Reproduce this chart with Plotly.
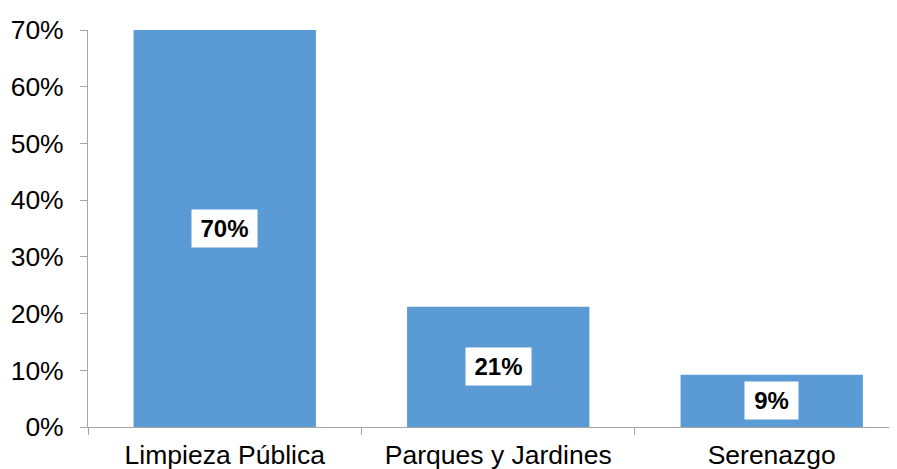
import plotly.graph_objects as go

categories = ["Limpieza Pública", "Parques y Jardines", "Serenazgo"]
values = [0.70, 0.212, 0.092]
labels = ["70%", "21%", "9%"]
y_ticks = [0, 0.1, 0.2, 0.3, 0.4, 0.5, 0.6, 0.7]
y_tick_text = ["0%", "10%", "20%", "30%", "40%", "50%", "60%", "70%"]

fig = go.Figure()
fig.add_trace(go.Bar(x=categories, y=values, marker=dict(color="#5B9BD5", line=dict(width=0)),
                     hoverinfo="skip"))

for c, v, t in zip(categories, values, labels):
    w = 55 if len(t) > 2 else 43
    fig.add_annotation(x=c, y=v / 2, text="<b>" + t + "</b>", showarrow=False,
                       font=dict(family="Liberation Sans, Arial", size=24, color="black"),
                       bgcolor="white", borderpad=5, width=w)

axis_col = "#A6A6A6"
# the page body adds an 8px margin, so the figure is sized to fill the 897x469 window
fig.update_layout(
    width=889, height=461,
    margin=dict(l=80, r=0, t=21.5, b=42, autoexpand=False),
    paper_bgcolor="white", plot_bgcolor="white",
    bargap=1/3, showlegend=False,
    font=dict(family="Liberation Sans, Arial", size=26.5, color="black"),
    xaxis=dict(range=[-0.5, 2.458], showline=True, linecolor=axis_col, linewidth=1,
               ticks="outside", tickson="boundaries", ticklen=7, tickcolor=axis_col,
               showgrid=False, zeroline=False, automargin=False, ticklabelstandoff=4),
    yaxis=dict(range=[0, 0.70], tickvals=y_ticks, ticktext=y_tick_text,
               showline=True, linecolor=axis_col, linewidth=1,
               ticks="outside", ticklen=7, tickcolor=axis_col, automargin=False,
               showgrid=False, zeroline=False, ticklabelstandoff=11),
)

fig.write_html("out.html")
